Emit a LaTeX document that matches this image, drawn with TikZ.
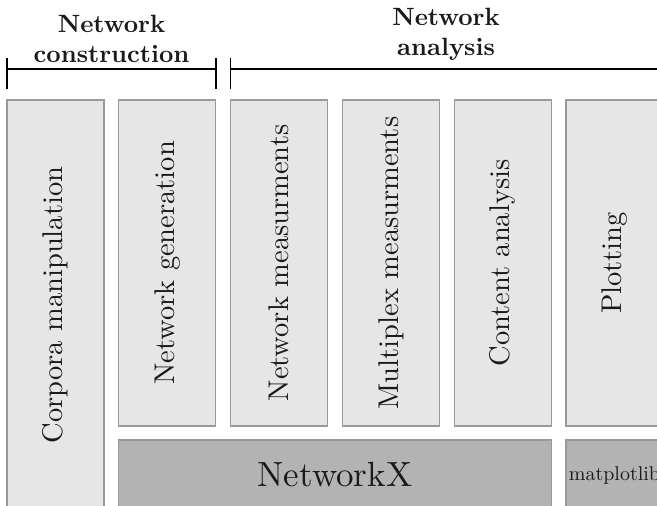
\documentclass[tikz,border=0pt]{standalone}
\usepackage{fontspec}
\setmainfont{lmroman10-regular.otf}[BoldFont=lmroman10-bold.otf]
\definecolor{boxfill}{HTML}{E6E6E6}
\definecolor{libfill}{HTML}{B3B3B3}
\definecolor{boxborder}{HTML}{999999}
\definecolor{txt}{HTML}{1A1A1A}
\tikzset{
  box/.style={draw=boxborder, fill=boxfill, line width=1.2pt, inner sep=0pt,
    text=txt, font=\fontsize{28.5}{34}\selectfont, rotate=90,
    minimum height=97pt},
  libbox/.style={draw=boxborder, fill=libfill, line width=1.2pt, inner sep=0pt,
    text=txt, minimum width=432.4pt},
  head/.style={font=\bfseries\fontsize{25}{30.5}\selectfont, align=center,
    inner sep=0pt, anchor=south, text=txt},
  brace/.style={line width=1.3pt, draw=black}
}
\begin{document}
\begin{tikzpicture}[x=1pt,y=-1pt]
\useasboundingbox (0,0) rectangle (657,506);
\clip (0,0) rectangle (657,506);
\fill[white] (0,0) rectangle (657,506);
% header labels
\node[head] (hcons) at (111.5,63) {Network\\construction};
\node[head] (hana) at (446,61) {Network\\analysis};
% brackets
\coordinate (l1a) at (7,58); \coordinate (l1b) at (7,89);
\coordinate (l2a) at (216,58); \coordinate (l2b) at (216,89);
\coordinate (lm1) at (7,69); \coordinate (lm2) at (216,69);
\coordinate (r1a) at (230.5,58); \coordinate (r1b) at (230.5,89);
\coordinate (rm1) at (230.5,69); \coordinate (rm2) at (670,69);
\draw[brace] (l1a) -- (l1b);
\draw[brace] (l2a) -- (l2b);
\draw[brace] (lm1) -- (lm2);
\draw[brace] (r1a) -- (r1b);
\draw[brace] (rm1) -- (rm2);
% top boxes
\node[box, minimum width=410pt] (corp) at (55.5,305) {Corpora manipulation};
\node[box, minimum width=326pt] (gen) at (167.3,263) {Network generation};
\node[box, minimum width=326pt] (meas) at (279.1,263) {Network measurments};
\node[box, minimum width=326pt] (mult) at (390.9,263) {Multiplex measurments};
\node[box, minimum width=326pt] (cont) at (502.7,263) {Content analysis};
\node[box, minimum width=326pt] (plot) at (614.5,263) {Plotting};
% library boxes
\node[libbox, minimum height=70pt, font=\fontsize{35}{40}\selectfont] (nx) at (335,475) {NetworkX};
\node[libbox, minimum width=97pt, minimum height=70pt, font=\fontsize{20}{24}\selectfont] (mpl) at (614.5,475) {matplotlib};
\end{tikzpicture}
\end{document}
